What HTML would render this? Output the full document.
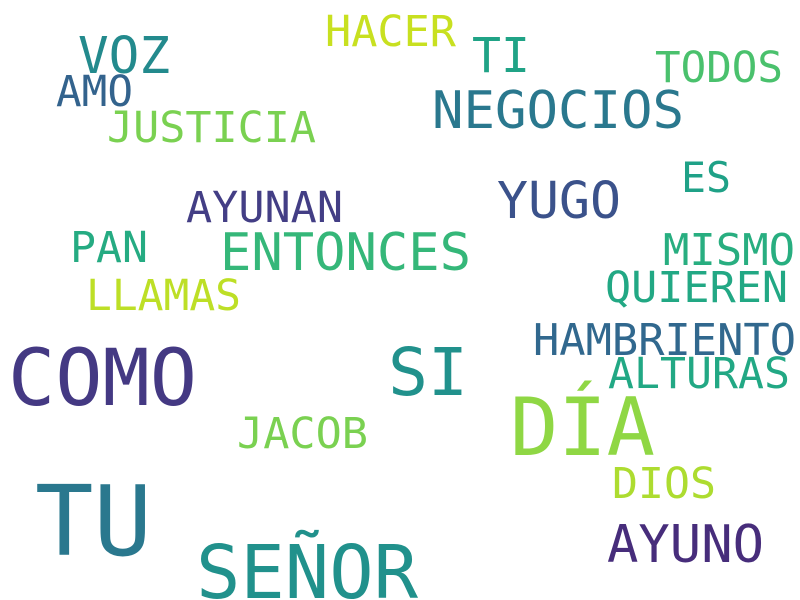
<!DOCTYPE html>
<html><head><meta charset="utf-8"><style>
html,body{margin:0;padding:0;background:#fff;}
svg{display:block;}
text{font-family:"DejaVu Sans Mono","Liberation Mono",monospace;}
</style></head><body>
<svg id="cloud" width="800" height="600" viewBox="0 0 800 600">
<rect width="800" height="600" fill="#ffffff"/>
</svg>
<script>
const words = ["COMO","TU","SEÑOR","DÍA","SI","NEGOCIOS","ENTONCES","YUGO","VOZ","HAMBRIENTO","AYUNO","TI","JUSTICIA","QUIEREN","MISMO","ALTURAS","AYUNAN","LLAMAS","JACOB","HACER","TODOS","PAN","AMO","ES","DIOS"];
const sizes = [78,97,74,80,66,52,52,51,51,44,52,48,43,43,44,43,43,43,43,43,43,43,43,42,43];
const colors = ["#443983","#2a788e","#21918c","#8fd744","#21918c","#2a788e","#35b779","#3b528b","#238a8d","#31688e","#472d7b","#20a386","#7ad151","#22a884","#28ae80","#22a884","#433e85","#bddf26","#7ad151","#c8e020","#4ac16d","#25ab82","#33638d","#1fa187","#addc30"];
const xs = [8,35,196,510,388,432,220,497,78,533,607,472,107,605,663,608,186,86,237,325,655,70,56,681,612];
const ys = [405,555,598,455,395,128,270,218,73,355,562,72,142,302,265,388,222,310,448,46,82,262,106,192,498];
const widths = [189,117,222,145,80,252,251,124,92,263,157,58,209,183,132,182,157,155,131,131,128,78,77,50,104];
const svg = document.getElementById('cloud');
const NS = 'http://www.w3.org/2000/svg';
words.forEach((w,i)=>{
  const t = document.createElementNS(NS,'text');
  t.setAttribute('x', xs[i]);
  t.setAttribute('y', ys[i]);
  t.setAttribute('font-size', sizes[i]);
  t.setAttribute('fill', colors[i]);
  t.setAttribute('textLength', widths[i]);
  t.setAttribute('lengthAdjust', 'spacingAndGlyphs');
  t.textContent = w;
  
  
  svg.appendChild(t);
});
</script>
</body></html>
